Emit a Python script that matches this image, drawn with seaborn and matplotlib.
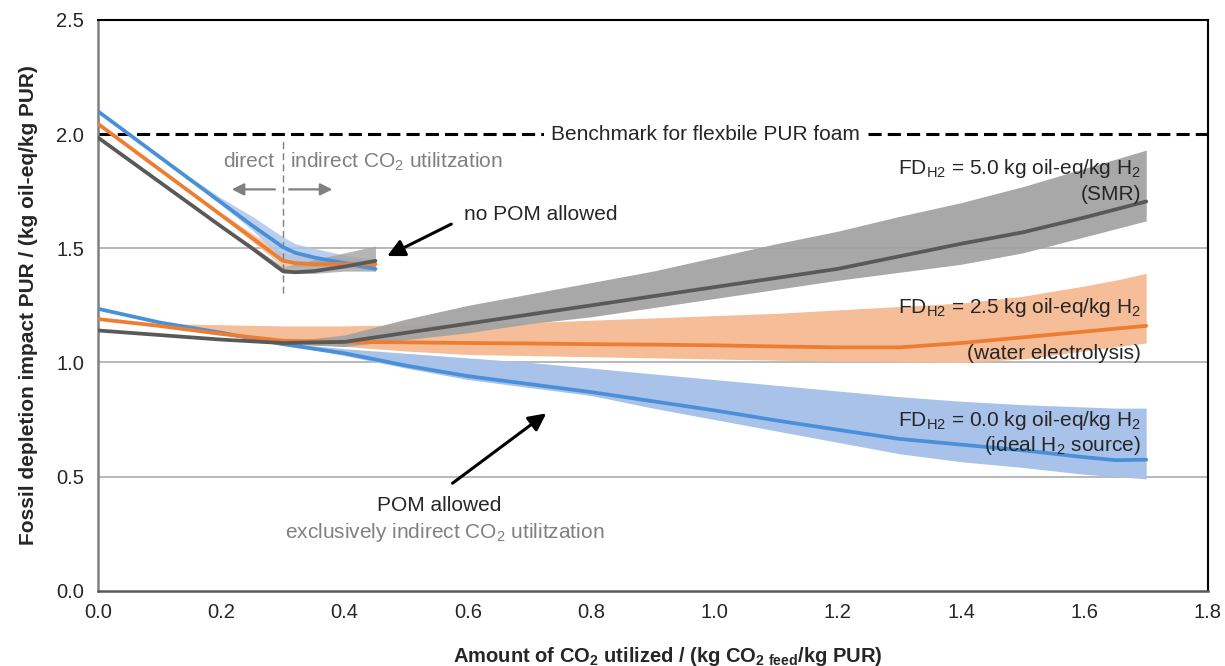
import numpy as np
import pandas as pd
import matplotlib
matplotlib.use("Agg")
import matplotlib.pyplot as plt
import seaborn as sns

sns.set_theme(style="white")
plt.rcParams['font.family'] = ['Liberation Sans', 'DejaVu Sans']
plt.rcParams['mathtext.fontset'] = 'custom'
plt.rcParams['mathtext.rm'] = 'Liberation Sans'
plt.rcParams['mathtext.default'] = 'regular'

# ---- data ----
# POM allowed (exclusively indirect CO2 utilization)
x_pom = [0.0, 0.1, 0.2, 0.3, 0.4, 0.5, 0.6, 0.7, 0.8, 0.9, 1.0, 1.1, 1.2, 1.3, 1.4, 1.5, 1.6, 1.65, 1.7]
fd0_line = [1.235, 1.175, 1.13, 1.08, 1.04, 0.986, 0.94, 0.905, 0.87, 0.83, 0.79, 0.746, 0.705, 0.665, 0.64, 0.615, 0.585, 0.572, 0.574]
fd0_low = [1.235, 1.175, 1.13, 1.08, 1.03, 0.975, 0.925, 0.89, 0.855, 0.80, 0.75, 0.70, 0.65, 0.60, 0.565, 0.54, 0.51, 0.50, 0.49]
fd0_high = [1.235, 1.175, 1.13, 1.085, 1.06, 1.04, 1.02, 1.00, 0.975, 0.95, 0.925, 0.90, 0.875, 0.85, 0.83, 0.815, 0.805, 0.80, 0.80]

fd25_line = [1.19, 1.16, 1.125, 1.095, 1.09, 1.088, 1.085, 1.083, 1.08, 1.078, 1.075, 1.07, 1.066, 1.066, 1.085, 1.11, 1.135, 1.148, 1.16]
fd25_low = [1.19, 1.155, 1.12, 1.09, 1.07, 1.05, 1.035, 1.03, 1.025, 1.02, 1.015, 1.01, 1.005, 1.003, 1.0, 1.015, 1.05, 1.068, 1.085]
fd25_high = [1.19, 1.17, 1.165, 1.16, 1.16, 1.165, 1.17, 1.175, 1.185, 1.195, 1.205, 1.215, 1.23, 1.245, 1.26, 1.29, 1.335, 1.36, 1.39]

fd5_line = [1.14, 1.12, 1.10, 1.085, 1.09, 1.13, 1.17, 1.21, 1.25, 1.29, 1.33, 1.37, 1.41, 1.465, 1.52, 1.57, 1.635, 1.67, 1.705]
fd5_low = [1.14, 1.12, 1.10, 1.08, 1.07, 1.10, 1.13, 1.17, 1.20, 1.24, 1.28, 1.32, 1.36, 1.395, 1.43, 1.48, 1.55, 1.585, 1.62]
fd5_high = [1.14, 1.12, 1.10, 1.09, 1.12, 1.19, 1.25, 1.30, 1.35, 1.40, 1.46, 1.52, 1.575, 1.64, 1.70, 1.77, 1.85, 1.89, 1.93]

# no POM allowed (direct + indirect)
x_nopom = [0.0, 0.1, 0.2, 0.25, 0.3, 0.32, 0.35, 0.4, 0.45]
np0_line = [2.10, 1.90, 1.70, 1.60, 1.505, 1.48, 1.46, 1.435, 1.41]
np0_low = [2.10, 1.90, 1.69, 1.58, 1.45, 1.44, 1.43, 1.42, 1.40]
np0_high = [2.10, 1.90, 1.72, 1.64, 1.55, 1.52, 1.50, 1.47, 1.45]

np25_line = [2.045, 1.845, 1.645, 1.545, 1.445, 1.435, 1.43, 1.43, 1.43]
np25_low = [2.045, 1.845, 1.64, 1.53, 1.42, 1.42, 1.42, 1.42, 1.42]
np25_high = [2.045, 1.845, 1.655, 1.565, 1.48, 1.47, 1.46, 1.455, 1.45]

np5_line = [1.985, 1.79, 1.595, 1.50, 1.40, 1.395, 1.40, 1.42, 1.445]
np5_low = [1.985, 1.79, 1.59, 1.49, 1.39, 1.39, 1.39, 1.40, 1.40]
np5_high = [1.985, 1.79, 1.60, 1.51, 1.42, 1.43, 1.45, 1.48, 1.51]

benchmark = 2.0
x_ticks = [0.0, 0.2, 0.4, 0.6, 0.8, 1.0, 1.2, 1.4, 1.6, 1.8]
y_ticks = [0.0, 0.5, 1.0, 1.5, 2.0, 2.5]

blue, blue_band = '#4a90d9', '#a9c2ea'
orange, orange_band = '#ed7d31', '#f5bd98'
gray, gray_band = '#595959', '#a3a3a3'

fig = plt.figure(figsize=(12.25, 6.66), dpi=100)
ax = fig.add_axes([0.08, 0.113, 0.906, 0.857])

# grid lines
for yv in [0.5, 1.0, 1.5]:
    ax.axhline(yv, color='#a6a6a6', lw=1.1, zorder=0)

# uncertainty bands
ax.fill_between(x_pom, fd25_low, fd25_high, color=orange_band, lw=0, zorder=1)
ax.fill_between(x_pom, fd0_low, fd0_high, color=blue_band, lw=0, zorder=1)
ax.fill_between(x_pom, fd5_low, fd5_high, color=gray_band, alpha=0.95, lw=0, zorder=1)
ax.fill_between(x_nopom, np25_low, np25_high, color=orange_band, alpha=0.8, lw=0, zorder=1)
ax.fill_between(x_nopom, np0_low, np0_high, color=blue_band, alpha=0.8, lw=0, zorder=1)
ax.fill_between(x_nopom, np5_low, np5_high, color=gray_band, alpha=0.8, lw=0, zorder=1)

# lines
for xs, ys, c in [(x_pom, fd0_line, blue), (x_pom, fd25_line, orange), (x_pom, fd5_line, gray),
                  (x_nopom, np0_line, blue), (x_nopom, np25_line, orange), (x_nopom, np5_line, gray)]:
    sns.lineplot(x=xs, y=ys, color=c, lw=2.7, ax=ax, zorder=3, sort=False)

# benchmark
ax.axhline(benchmark, color='black', lw=2.2, dashes=(4.3, 2.0), zorder=2)
ax.text(0.985, benchmark, 'Benchmark for flexbile PUR foam', ha='center', va='center', fontsize=15,
        bbox=dict(facecolor='white', edgecolor='none', pad=5), zorder=4)

# direct / indirect divider
ax.plot([0.3, 0.3], [1.305, 1.97], color='#7f7f7f', lw=1, dashes=(5, 3), zorder=2)
ax.text(0.286, 1.88, 'direct', ha='right', va='center', fontsize=15, color='#808080')
ax.text(0.311, 1.88, 'indirect CO$_2$ utilitzation', ha='left', va='center', fontsize=15, color='#808080')
arr_g = dict(arrowstyle='-|>', color='#808080', lw=1.6, mutation_scale=18, shrinkA=0, shrinkB=0)
ax.annotate('', xy=(0.217, 1.758), xytext=(0.287, 1.758), arrowprops=arr_g)
ax.annotate('', xy=(0.38, 1.758), xytext=(0.31, 1.758), arrowprops=arr_g)

# annotations
arr_k = dict(arrowstyle='-|>', color='black', lw=2.2, mutation_scale=26, shrinkA=0, shrinkB=0)
ax.text(0.594, 1.65, 'no POM allowed', ha='left', va='center', fontsize=15)
ax.annotate('', xy=(0.469, 1.466), xytext=(0.573, 1.606), arrowprops=arr_k)
ax.text(0.554, 0.375, 'POM allowed', ha='center', va='center', fontsize=15)
ax.text(0.562, 0.253, 'exclusively indirect CO$_2$ utilitzation', ha='center', va='center',
        fontsize=15, color='#808080')
ax.annotate('', xy=(0.727, 0.777), xytext=(0.575, 0.471), arrowprops=arr_k)

rx = 1.692
ax.text(rx, 1.85, 'FD$_{H2}$ = 5.0 kg oil-eq/kg H$_2$', ha='right', va='center', fontsize=15, zorder=4)
ax.text(rx, 1.737, '(SMR)', ha='right', va='center', fontsize=15, zorder=4)
ax.text(rx, 1.24, 'FD$_{H2}$ = 2.5 kg oil-eq/kg H$_2$', ha='right', va='center', fontsize=15, zorder=4)
ax.text(rx, 1.04, '(water electrolysis)', ha='right', va='center', fontsize=15, zorder=4)
ax.text(rx, 0.746, 'FD$_{H2}$ = 0.0 kg oil-eq/kg H$_2$', ha='right', va='center', fontsize=15, zorder=4)
ax.text(rx, 0.637, '(ideal H$_2$ source)', ha='right', va='center', fontsize=15, zorder=4)

# axes
ax.set_xlim(0, 1.8)
ax.set_ylim(0, 2.5)
ax.set_xticks(x_ticks)
ax.set_yticks(y_ticks)
ax.set_xticklabels([f'{v:.1f}' for v in x_ticks])
ax.set_yticklabels([f'{v:.1f}' for v in y_ticks])
ax.tick_params(axis='x', direction='in', length=6, width=1.2, color='#595959', labelsize=14.5, pad=9)
ax.tick_params(axis='y', length=0, labelsize=14.5, pad=10)
ax.grid(False)
ax.spines['left'].set_color('#808080')
ax.spines['left'].set_linewidth(1.8)
ax.spines['bottom'].set_color('#595959')
ax.spines['bottom'].set_linewidth(1.8)
for s in ['top', 'right']:
    ax.spines[s].set_color('black')
    ax.spines[s].set_linewidth(1.5)

ax.set_xlabel('Amount of CO$_2$ utilized / (kg CO$_{2\\ feed}$/kg PUR)', fontsize=14.5,
              fontweight='bold')
ax.xaxis.set_label_coords(0.5135, -0.095)
ax.set_ylabel('Fossil depletion impact PUR / (kg oil-eq/kg PUR)', fontsize=15,
              fontweight='bold', labelpad=13)

fig.savefig('out.png', dpi=100)
